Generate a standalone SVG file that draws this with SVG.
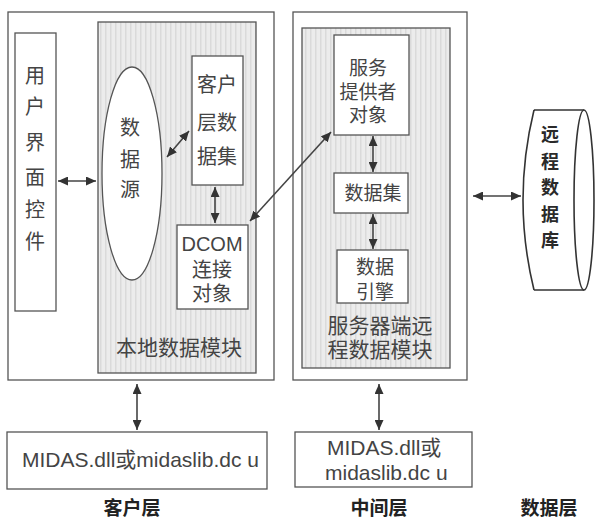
<svg xmlns="http://www.w3.org/2000/svg" width="595" height="521" viewBox="0 0 595 521">
<style>
.box{fill:#fff;stroke:#555;stroke-width:1.3}
.shade{fill:url(#stripes);stroke:#555;stroke-width:1.3}
.t{font-family:"Liberation Sans","Noto Sans CJK SC",sans-serif;font-size:20px;fill:#444;text-anchor:middle;dominant-baseline:central}
.b{font-family:"Noto Sans CJK SC","Liberation Sans",sans-serif;font-size:19px;font-weight:bold;fill:#222;text-anchor:middle;dominant-baseline:central}
.db{font-family:"Noto Sans CJK SC","Liberation Sans",sans-serif;font-size:18px;font-weight:bold;fill:#2a2a2a;text-anchor:middle;dominant-baseline:central}
.m{font-family:"Liberation Sans","Noto Sans CJK SC",sans-serif;font-size:21px;fill:#444;dominant-baseline:alphabetic}
.arr{fill:none;stroke:#444;stroke-width:1.6;marker-start:url(#ah);marker-end:url(#ah)}
</style>
<defs>
<pattern id="stripes" width="5" height="8" patternUnits="userSpaceOnUse">
<rect width="5" height="8" fill="#ececec"/>
<rect x="0" width="1.5" height="8" fill="#dadada"/>
</pattern>
<marker id="ah" viewBox="0 0 10 9" refX="10" refY="4.5" markerWidth="10" markerHeight="9" markerUnits="userSpaceOnUse" orient="auto-start-reverse">
<path d="M0,0 L10,4.5 L0,9 z" fill="#333"/>
</marker>
</defs>

<g id="client-tier">
<rect class="box" x="8" y="12" width="266" height="368"/>
</g>
<g id="ui-controls">
<rect class="box" x="15" y="33" width="41" height="278"/>
<text class="t" x="35" y="76">用</text>
<text class="t" x="35" y="107">户</text>
<text class="t" x="35" y="143">界</text>
<text class="t" x="35" y="178">面</text>
<text class="t" x="35" y="210">控</text>
<text class="t" x="35" y="242">件</text>
</g>
<g id="local-data-module">
<rect class="shade" x="98" y="22" width="158" height="351"/>
<text class="t" x="179" y="347" style="font-size:21px">本地数据模块</text>
</g>
<g id="data-source">
<ellipse cx="132" cy="173.5" rx="30" ry="106.5" fill="#fff" stroke="#555" stroke-width="1.3"/>
<text class="t" x="130" y="128">数</text>
<text class="t" x="130" y="160">据</text>
<text class="t" x="130" y="190">源</text>
</g>
<g id="client-dataset">
<rect class="box" x="192" y="56" width="51" height="129"/>
<text class="t" x="217" y="85">客户</text>
<text class="t" x="217" y="123">层数</text>
<text class="t" x="217" y="157">据集</text>
</g>
<g id="dcom-connection">
<rect class="box" x="177" y="225" width="71" height="84"/>
<text class="t" x="212" y="244">DCOM</text>
<text class="t" x="212" y="270">连接</text>
<text class="t" x="212" y="294">对象</text>
</g>

<g id="middle-tier">
<rect class="box" x="293" y="12" width="174" height="368"/>
</g>
<g id="remote-data-module">
<rect class="shade" x="302" y="28" width="148" height="340"/>
<text class="t" x="380" y="325" style="font-size:21px">服务器端远</text>
<text class="t" x="380" y="349" style="font-size:21px">程数据模块</text>
</g>
<g id="provider">
<rect class="box" x="334" y="35" width="75" height="100"/>
<text class="t" x="368" y="68" style="font-size:19px">服务</text>
<text class="t" x="368" y="92" style="font-size:19px">提供者</text>
<text class="t" x="368" y="115" style="font-size:19px">对象</text>
</g>
<g id="dataset">
<rect class="box" x="334" y="173" width="74" height="40"/>
<text class="t" x="373" y="193" style="font-size:19px">数据集</text>
</g>
<g id="data-engine">
<rect class="box" x="337" y="250" width="71" height="53"/>
<text class="t" x="375" y="267" style="font-size:19px">数据</text>
<text class="t" x="375" y="292" style="font-size:19px">引擎</text>
</g>

<g id="remote-database">
<path d="M534,110 L584,110 M534,290 L584,290 M534,110 Q512,200 534,290" fill="none" stroke="#333" stroke-width="1.6"/>
<ellipse cx="584" cy="200" rx="10" ry="90" fill="#fff" stroke="#333" stroke-width="1.6"/>
<text class="db" x="550" y="133">远</text>
<text class="db" x="550" y="159.5">程</text>
<text class="db" x="550" y="186">数</text>
<text class="db" x="550" y="212.5">据</text>
<text class="db" x="550" y="239">库</text>
</g>

<g id="midas-client">
<rect class="box" x="7" y="432" width="260" height="57"/>
<text class="m" x="22" y="467">MIDAS.dll或midaslib.dc u</text>
</g>
<g id="midas-middle">
<rect class="box" x="295" y="432" width="177" height="55"/>
<text class="m" x="327" y="455">MIDAS.dll或</text>
<text class="m" x="325" y="480">midaslib.dc u</text>
</g>

<g id="tier-labels">
<text class="b" x="132" y="506">客户层</text>
<text class="b" x="379" y="506">中间层</text>
<text class="b" x="549" y="506">数据层</text>
</g>

<g id="connectors">
<line class="arr" x1="58" y1="181" x2="96" y2="181"/>
<line class="arr" x1="167" y1="157" x2="189" y2="131"/>
<line class="arr" x1="215" y1="187" x2="215" y2="223"/>
<line class="arr" x1="250" y1="221" x2="331" y2="132"/>
<line class="arr" x1="373" y1="136" x2="373" y2="172"/>
<line class="arr" x1="373" y1="214" x2="373" y2="249"/>
<line class="arr" x1="473" y1="196" x2="521" y2="196"/>
<line class="arr" x1="137" y1="384" x2="137" y2="430"/>
<line class="arr" x1="379" y1="384" x2="379" y2="430"/>
</g>
</svg>
